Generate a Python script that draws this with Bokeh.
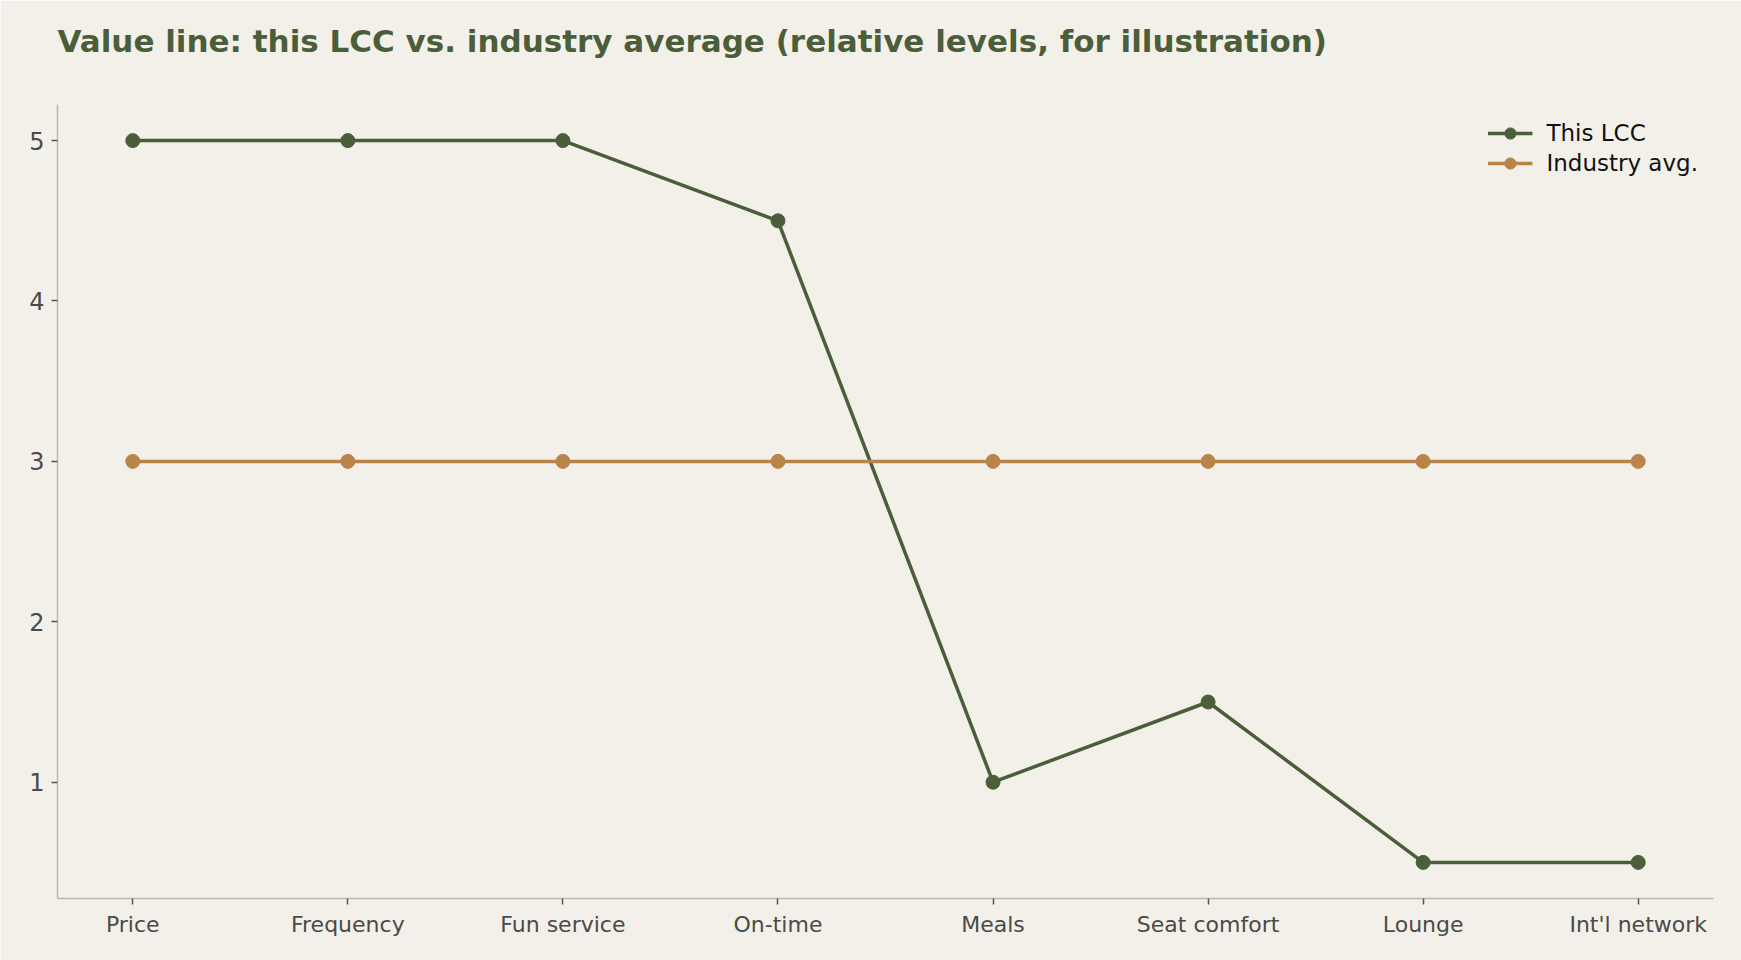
from bokeh.plotting import figure
from bokeh.models import FactorRange, Range1d, FixedTicker, Legend, LegendItem, Title
from bokeh.embed import file_html
from bokeh.resources import INLINE

# Attributes along the value line and the relative level of each offering
categories = ["Price", "Frequency", "Fun service", "On-time", "Meals",
              "Seat comfort", "Lounge", "Int'l network"]
this_lcc = [5, 5, 5, 4.5, 1, 1.5, 0.5, 0.5]
industry_avg = [3, 3, 3, 3, 3, 3, 3, 3]
y_ticks = [1, 2, 3, 4, 5]

BG = "#f3f0e9"
GREEN = "#4a5e3a"
TAN = "#b8844a"
AXIS = "#b4bba8"
TEXT = "#4a4a4a"
FONT = "DejaVu Sans"

p = figure(
    width=1741, height=960,
    x_range=FactorRange(*categories, range_padding=-0.15, range_padding_units="absolute"),
    y_range=Range1d(0.275, 5.225),
    output_backend="svg", toolbar_location=None,
    min_border_left=57, min_border_right=28, min_border_top=104, min_border_bottom=62,
    background_fill_color=BG, border_fill_color=BG,
)
p.outline_line_color = None
p.grid.visible = False

p.title.text = "Value line: this LCC vs. industry average (relative levels, for illustration)"
p.title.text_font = FONT
p.title.text_font_style = "bold"
p.title.text_font_size = "31px"
p.title.text_color = GREEN
p.title.align = "left"
p.title.vertical_align = "top"
p.title.standoff = 45

# blank band between the heading and the plot frame
p.add_layout(Title(text=" ", text_font_size="1px", standoff=18), "above")

l1 = p.line(categories, this_lcc, line_color=GREEN, line_width=3.5)
s1 = p.scatter(categories, this_lcc, size=14, fill_color=GREEN, line_color=GREEN)
l2 = p.line(categories, industry_avg, line_color=TAN, line_width=3.5)
s2 = p.scatter(categories, industry_avg, size=14, fill_color=TAN, line_color=TAN)

legend = Legend(items=[
    LegendItem(label="This LCC", renderers=[l1, s1]),
    LegendItem(label="Industry avg.", renderers=[l2, s2]),
], location="top_right")
legend.border_line_color = None
legend.background_fill_alpha = 0
legend.label_text_font = FONT
legend.label_text_font_size = "23px"
legend.label_text_color = "#111111"
legend.glyph_width = 45
legend.glyph_height = 28
legend.label_height = 28
legend.spacing = 2
legend.padding = 6
legend.margin = 15
legend.label_standoff = 14
p.add_layout(legend)

for ax in (p.xaxis[0], p.yaxis[0]):
    ax.axis_line_color = AXIS
    ax.axis_line_width = 1.5
    ax.major_tick_line_color = "#555555"
    ax.major_tick_line_width = 1.5
    ax.major_tick_out = 6
    ax.major_tick_in = 0
    ax.minor_tick_line_color = None
    ax.major_label_text_color = TEXT

p.yaxis.ticker = FixedTicker(ticks=y_ticks)
p.yaxis.major_label_text_font = FONT
p.yaxis.major_label_text_font_size = "24px"
p.yaxis.major_label_standoff = 7

p.xaxis.major_label_text_font = FONT
p.xaxis.major_label_text_font_size = "22px"
p.xaxis.major_label_standoff = 7

open("out.html", "w").write(file_html(p, INLINE))
